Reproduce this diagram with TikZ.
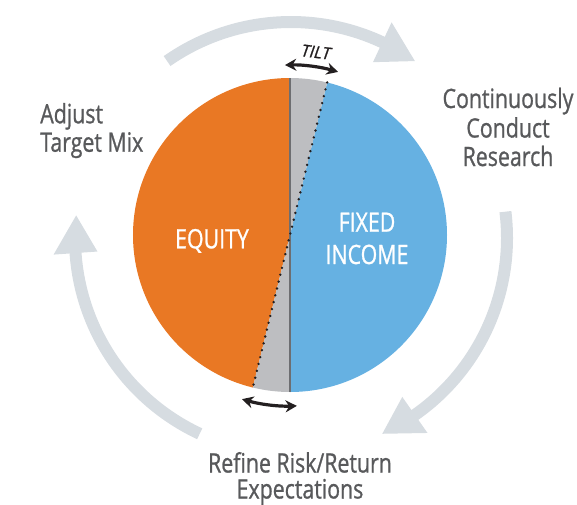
\documentclass[tikz,border=0pt]{standalone}
\usepackage{fontspec}
\newfontfamily\lblfont[FakeStretch=0.8,FakeBold=0.9]{Open Sans}
\newfontfamily\lblfontit[FakeBold=0.9]{Open Sans Italic}
\usetikzlibrary{arrows.meta,calc}
\definecolor{eqorange}{HTML}{E97824}
\definecolor{fiblue}{HTML}{66B1E2}
\definecolor{wedgegray}{HTML}{BDBEC1}
\definecolor{cyclegray}{HTML}{D6DCE1}
\definecolor{txtgray}{HTML}{58595B}
\definecolor{divgray}{HTML}{6D6E71}
\definecolor{tiltblack}{HTML}{231F20}
\newcommand\cyclarrow[3]{%
  \draw[cycleshaft] ($(ac)+(#1:216)$) arc[start angle=#1, end angle=#2-1.5, radius=216];
  \fill[cyclegray] ($(ac)+(#2:238)$) -- ($(ac)+(#3:216)$) -- ($(ac)+(#2:194)$) -- cycle;
}
\begin{document}
\begin{tikzpicture}[x=0.75pt,y=0.75pt,
  cycleshaft/.style={draw=cyclegray, line width=9pt},
  divider/.style={draw=divgray, line width=1.1pt},
  dotline/.style={draw=tiltblack, line width=2pt, line cap=round, dash pattern=on 0pt off 5.3pt},
  tiltarrow/.style={draw=tiltblack, line width=2.4pt, {Stealth[length=8.5pt,width=9pt]}-{Stealth[length=8.5pt,width=9pt]}},
  lbl/.style={text=txtgray, inner sep=0pt, font=\lblfont\fontsize{20}{22}\selectfont},
  inlbl/.style={text=white, inner sep=0pt, font=\lblfont\fontsize{20}{22}\selectfont},
  tiltlbl/.style={text=tiltblack, inner sep=0pt, font=\lblfontit\fontsize{12.5}{14}\selectfont}
]
\useasboundingbox (-290,-269) rectangle (287,235);
\coordinate (c) at (0,0);
\coordinate (ac) at (1,-3);
% cycle arrows
\cyclarrow{125}{65}{55}
\cyclarrow{7}{-55}{-65}
\cyclarrow{245}{184}{174}
% pie
\fill[eqorange] (c) -- (90:157) arc[start angle=90, end angle=256.3, radius=157] -- cycle;
\fill[wedgegray] (c) -- (256.3:157) arc[start angle=256.3, end angle=270, radius=157] -- cycle;
\fill[fiblue] (c) -- (270:157) arc[start angle=270, end angle=436.3, radius=157] -- cycle;
\fill[wedgegray] (c) -- (76.3:157) arc[start angle=76.3, end angle=90, radius=157] -- cycle;
\coordinate (vt) at (90:157);
\coordinate (vb) at (270:157);
\coordinate (dt) at (76.3:157);
\coordinate (db) at (256.3:157);
\draw[divider] (vt) -- (vb);
\draw[dotline] (dt) -- (db);
% tilt arrows
\coordinate (ta) at (91.7:170);
\coordinate (ba) at (253.7:171);
\draw[tiltarrow] (ta) arc[start angle=91.7, end angle=73.6, radius=170];
\draw[tiltarrow] (ba) arc[start angle=253.7, end angle=272.3, radius=171];
\node[tiltlbl, rotate=-7] (tilt) at (26,183) {TILT};
% labels
\node[inlbl, anchor=base] (eq) at (-78,-13.3) {EQUITY};
\node[inlbl, anchor=base] (fi1) at (77,3.3) {FIXED};
\node[inlbl, anchor=base] (fi2) at (77,-29) {INCOME};
\node[lbl, anchor=base west] (adj1) at (-250,111.7) {Adjust};
\node[lbl, anchor=base west] (adj2) at (-250,83.3) {Target Mix};
\node[lbl, anchor=base] (ccr1) at (218,127) {Continuously};
\node[lbl, anchor=base] (ccr2) at (218,97.5) {Conduct};
\node[lbl, anchor=base] (ccr3) at (218,69) {Research};
\node[lbl, anchor=base, align=center, font=\lblfont\fontsize{20}{19.5}\selectfont] (rr) at (10,-263.5) {Refine Risk/Return\\Expectations};
\end{tikzpicture}
\end{document}
